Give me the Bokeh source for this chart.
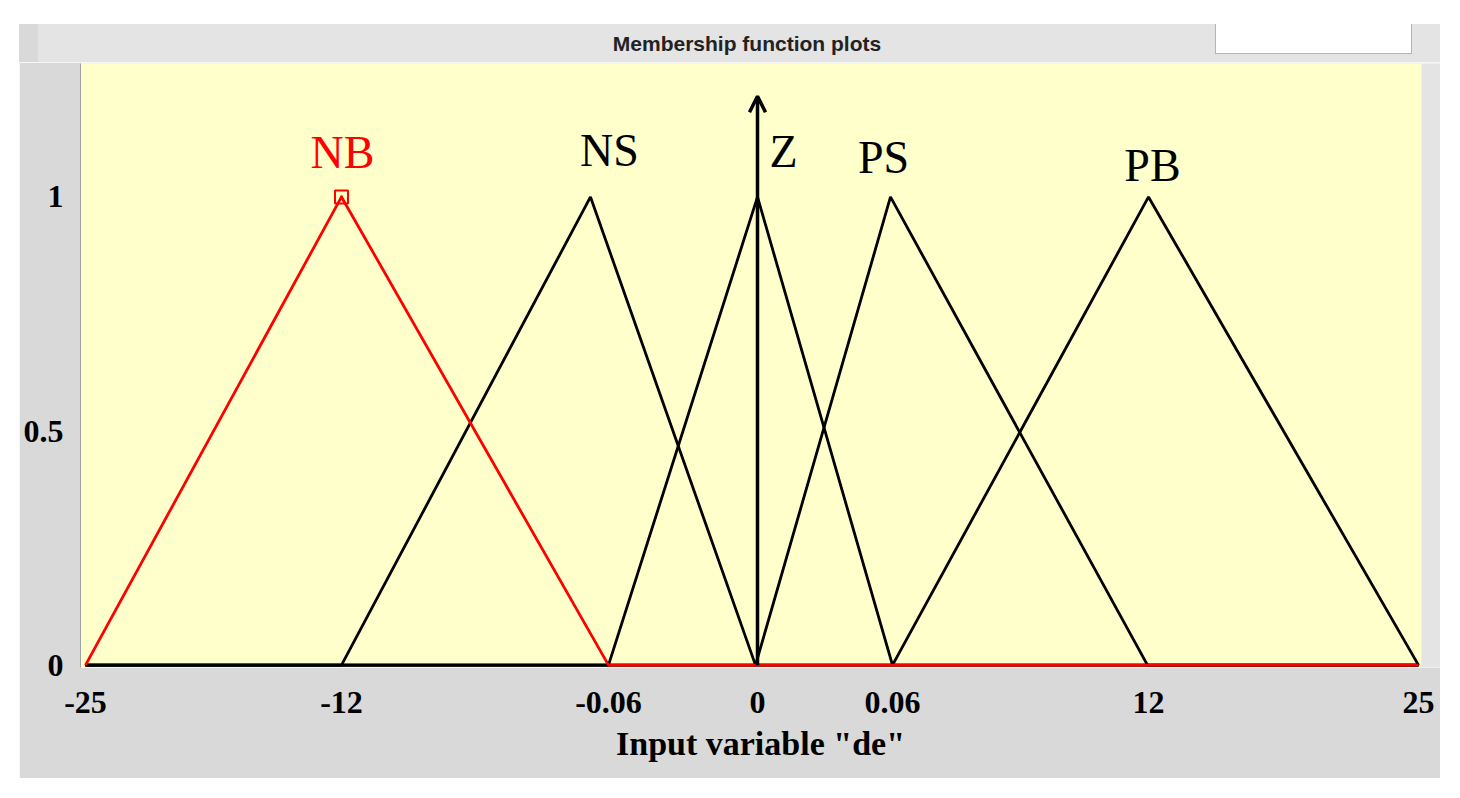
from bokeh.plotting import figure
from bokeh.models import (Range1d, FixedTicker, Arrow, OpenHead, ColumnDataSource,
                          BoxAnnotation, Div)
from bokeh.layouts import column
from bokeh.core.properties import value
from bokeh.embed import file_html
from bokeh.resources import INLINE

# ---- data ----
tick_labels = ["-25", "-12", "-0.06", "0", "0.06", "12", "25"]
tick_pos = [0, 256, 523, 672, 807, 1063, 1333]          # display positions of the ticks
mf_names = ["NB", "NS", "Z", "PS", "PB"]
mf_a = [0, 256, 523, 670, 807]
mf_b = [256, 505, 672, 805, 1063]
mf_c = [523, 670, 807, 1062, 1333]
mf_colors = ["#ff0000", "black", "black", "black", "black"]
label_x = [257, 524, 698, 798, 1067]
label_y = [1.094, 1.100, 1.098, 1.085, 1.068]
y_ticks = [0, 0.5, 1]
arrow_top = 1.215
plot_x_end = 1336          # right edge of the yellow axes area

SERIF = "Liberation Serif"
SANS = "Liberation Sans"

# ---- header band (title strip of the MATLAB panel) ----
header_html = """
<div style="position:relative;width:1421px;height:38px;background:#d9d9d9;overflow:hidden;">
  <div style="position:absolute;left:19px;top:0;width:1402px;height:38px;background:#e4e4e4;"></div>
  <div style="position:absolute;left:1196px;top:0;width:197px;height:30px;background:#ffffff;
              border:1.5px solid #b4b4b4;border-top:none;box-sizing:border-box;"></div>
  <div style="position:absolute;left:478px;top:0;width:500px;height:38px;line-height:40px;
              text-align:center;font-family:'Liberation Sans',Arial,sans-serif;font-weight:bold;
              font-size:21px;color:#222222;">Membership function plots</div>
</div>
"""
header = Div(text=header_html, width=1421, height=38, margin=0)

# ---- figure ----
p = figure(width=1421, height=716, output_backend="svg", toolbar_location=None,
           x_range=Range1d(-5, 1355), y_range=Range1d(-0.005, 1.285),
           min_border_left=61, min_border_right=0, min_border_top=1, min_border_bottom=111)
p.margin = 0
p.background_fill_color = "#ffffcc"
p.border_fill_color = "#d9d9d9"
p.outline_line_color = None
p.grid.visible = False

# light-grey strip right of the axes area
p.add_layout(BoxAnnotation(left=plot_x_end, fill_color="#e4e4e4", fill_alpha=1,
                           line_color=None, level="underlay"))

# axes
p.xaxis.ticker = FixedTicker(ticks=tick_pos)
p.xaxis.major_label_overrides = {tp: lab for tp, lab in zip(tick_pos, tick_labels)}
p.yaxis.ticker = FixedTicker(ticks=y_ticks)
for ax in (p.xaxis[0], p.yaxis[0]):
    ax.major_tick_line_color = None
    ax.minor_tick_line_color = None
    ax.major_label_text_font = SERIF
    ax.major_label_text_font_style = "bold"
    ax.major_label_text_font_size = "32px"
    ax.major_label_text_color = "black"
p.xaxis.axis_line_color = None
p.yaxis.axis_line_color = "#a0a0a0"
p.xaxis.major_label_standoff = 18
p.yaxis.major_label_standoff = 11
p.xaxis.axis_label = 'Input variable "de"'
p.xaxis.axis_label_text_font = SERIF
p.xaxis.axis_label_text_font_style = "bold"
p.xaxis.axis_label_text_font_size = "34px"
p.xaxis.axis_label_text_color = "black"
p.xaxis.axis_label_standoff = 9

# membership functions (black first, selected red one on top)
x_min, x_max = tick_pos[0], tick_pos[-1]
order = list(range(1, len(mf_names))) + [0]
for i in order:
    xs = [x_min, mf_a[i], mf_b[i], mf_c[i], x_max]
    ys = [0, 0, 1, 0, 0]
    p.line(xs, ys, line_color=mf_colors[i], line_width=2.8)

# selected-MF peak marker
p.scatter([mf_b[0]], [1], marker="square_dot", size=13, fill_color=None,
          line_color="#ff0000", line_width=2)

# vertical arrow at Z peak
p.add_layout(Arrow(x_start=mf_b[2], y_start=0, x_end=mf_b[2], y_end=arrow_top,
                   line_width=3.5, line_color="black",
                   end=OpenHead(size=16, line_width=3.5, line_color="black")))

# MF labels
src = ColumnDataSource(dict(x=label_x, y=label_y, t=mf_names, c=mf_colors))
p.text(x="x", y="y", text="t", text_color="c", source=src, text_align="center",
       text_baseline="middle", text_font=value(SERIF), text_font_size="46px")

layout = column(header, p, spacing=0)
layout.margin = (24, 0, 0, 19)

open("out.html", "w").write(file_html(layout, INLINE))
